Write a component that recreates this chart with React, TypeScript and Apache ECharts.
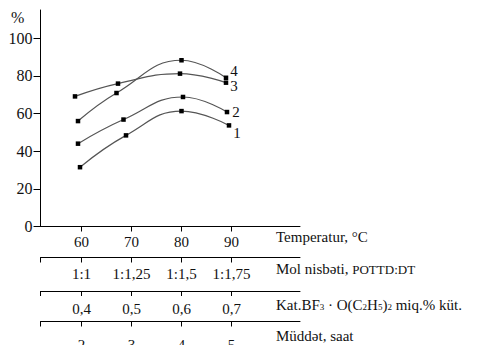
import React, { useEffect, useRef } from "react";
import * as echarts from "echarts";

const temps = [60, 70, 80, 90];
const molLabels = ["1:1", "1:1,25", "1:1,5", "1:1,75"];
const catLabels = ["0,4", "0,5", "0,6", "0,7"];
const timeLabels = ["2", "3", "4", "5"];
const yTicks = [0, 20, 40, 60, 80, 100];

const s1X = [59.7, 68.9, 80, 89.5];
const s1Y = [31.5, 48.4, 61.3, 53.7];
const s2X = [59.3, 68.4, 80.3, 89.1];
const s2Y = [44, 56.8, 68.8, 60.8];
const s3X = [58.7, 67.3, 79.7, 88.9];
const s3Y = [69.1, 75.9, 81.2, 76.4];
const s4X = [59.3, 67, 80, 88.9];
const s4Y = [56, 70.9, 88.3, 79];
const seriesNames = ["1", "2", "3", "4"];

const X_MIN = 51.8;
const X_MAX = 103.7;
const Y_MAX = 115;
const FONT = "Liberation Serif";

const GRID_LEFT = 40.5;
const GRID_TOP = 10;
const GRID_W = 259.5;
const GRID_H = 216.5;

export default function App() {
  const ref = useRef<HTMLDivElement>(null);
  useEffect(() => {
    document.body.style.margin = "0";
    const chart = echarts.init(ref.current!, undefined, { renderer: "svg" });
    const labelOffsets: [number, number][] = [
      [0, 8],
      [1, 0],
      [0, 3],
      [0, -7],
    ];
    const xs = [s1X, s2X, s3X, s4X];
    const ys = [s1Y, s2Y, s3Y, s4Y];
    const series = xs.map((xArr, i) => ({
      type: "line",
      name: seriesNames[i],
      smooth: 0.45,
      symbol: "rect",
      symbolSize: 4.5,
      itemStyle: { color: "#000" },
      lineStyle: { color: "#555", width: 1.2 },
      data: xArr.map((x, j) => {
        const item: any = { value: [x, ys[i][j]] };
        if (j === xArr.length - 1) {
          item.label = {
            show: true,
            position: "right",
            distance: 2,
            offset: labelOffsets[i],
            formatter: seriesNames[i],
            fontFamily: FONT,
            fontSize: 15,
            color: "#111",
          };
        }
        return item;
      }),
    }));

    const lowerAxis = (offset: number, labels: string[], margin: number) => ({
      type: "value",
      position: "bottom",
      offset,
      min: X_MIN,
      max: X_MAX,
      axisLine: { show: true, onZero: false, lineStyle: { color: "#000", width: 1 } },
      splitLine: { show: false },
      axisTick: {
        show: true,
        length: 5,
        customValues: [X_MIN, ...temps],
        lineStyle: { color: "#000" },
      },
      axisLabel: {
        show: true,
        customValues: temps,
        margin,
        fontFamily: FONT,
        fontSize: 15,
        color: "#111",
        formatter: (v: number) => {
          const idx = temps.indexOf(Math.round(v));
          return idx >= 0 ? labels[idx] : "";
        },
      },
    });

    const gx = GRID_LEFT;
    const gy = GRID_TOP + GRID_H;

    chart.setOption({
      animation: false,
      grid: {
        left: GRID_LEFT,
        top: GRID_TOP,
        width: GRID_W,
        height: GRID_H,
        outerBoundsMode: "none",
        containLabel: false,
      },
      xAxis: [
        {
          type: "value",
          position: "bottom",
          min: X_MIN,
          max: X_MAX,
          axisLine: { show: true, onZero: false, lineStyle: { color: "#000", width: 1 } },
          splitLine: { show: false },
          axisTick: { show: true, length: 5, customValues: temps, lineStyle: { color: "#000" } },
          axisLabel: {
            show: true,
            customValues: temps,
            margin: 8,
            fontFamily: FONT,
            fontSize: 15,
            color: "#111",
          },
        },
        lowerAxis(31, molLabels, 9),
        lowerAxis(64.5, catLabels, 10),
        lowerAxis(95, timeLabels, 16),
      ],
      yAxis: {
        type: "value",
        min: 0,
        max: Y_MAX,
        axisLine: { show: true, onZero: false, lineStyle: { color: "#000", width: 1 } },
        splitLine: { show: false },
        axisTick: { show: true, length: 7, customValues: yTicks, lineStyle: { color: "#000" } },
        axisLabel: {
          show: true,
          customValues: yTicks,
          margin: 8,
          fontFamily: FONT,
          fontSize: 16,
          color: "#111",
        },
      },
      series,
      graphic: [
        {
          type: "line",
          z: 100,
          shape: { x1: gx, y1: GRID_TOP, x2: gx, y2: gy },
          style: { stroke: "#000", lineWidth: 1 },
        },
        {
          type: "line",
          z: 100,
          shape: { x1: gx, y1: gy, x2: GRID_LEFT + GRID_W, y2: gy },
          style: { stroke: "#000", lineWidth: 1 },
        },
        {
          type: "text",
          left: 11,
          top: 9,
          style: { text: "%", fontFamily: FONT, fontSize: 16, fill: "#111" },
        },
        {
          type: "text",
          left: 276,
          top: 229,
          style: { text: "Temperatur, °C", fontFamily: FONT, fontSize: 15, fill: "#111" },
        },
        {
          type: "text",
          left: 276,
          top: 261,
          style: {
            text: "Mol nisbəti, {s|POTTD:DT}",
            fontFamily: FONT,
            fontSize: 15,
            fill: "#111",
            rich: { s: { fontFamily: FONT, fontSize: 13, fill: "#111", padding: [2, 0, 0, 0] } },
          },
        },
        {
          type: "text",
          left: 276,
          top: 297,
          style: {
            text: "Kat.BF{b|3} · O(C{b|2}H{b|5}){b|2} miq.% küt.",
            fontFamily: FONT,
            fontSize: 15,
            fill: "#111",
            rich: { b: { fontFamily: FONT, fontSize: 9, fill: "#111", padding: [5, 0, 0, 0] } },
          },
        },
        {
          type: "text",
          left: 276,
          top: 328,
          style: { text: "Müddət, saat", fontFamily: FONT, fontSize: 15, fill: "#111" },
        },
      ],
    });
    return () => chart.dispose();
  }, []);
  return <div ref={ref} style={{ width: 480, height: 345 }} />;
}
